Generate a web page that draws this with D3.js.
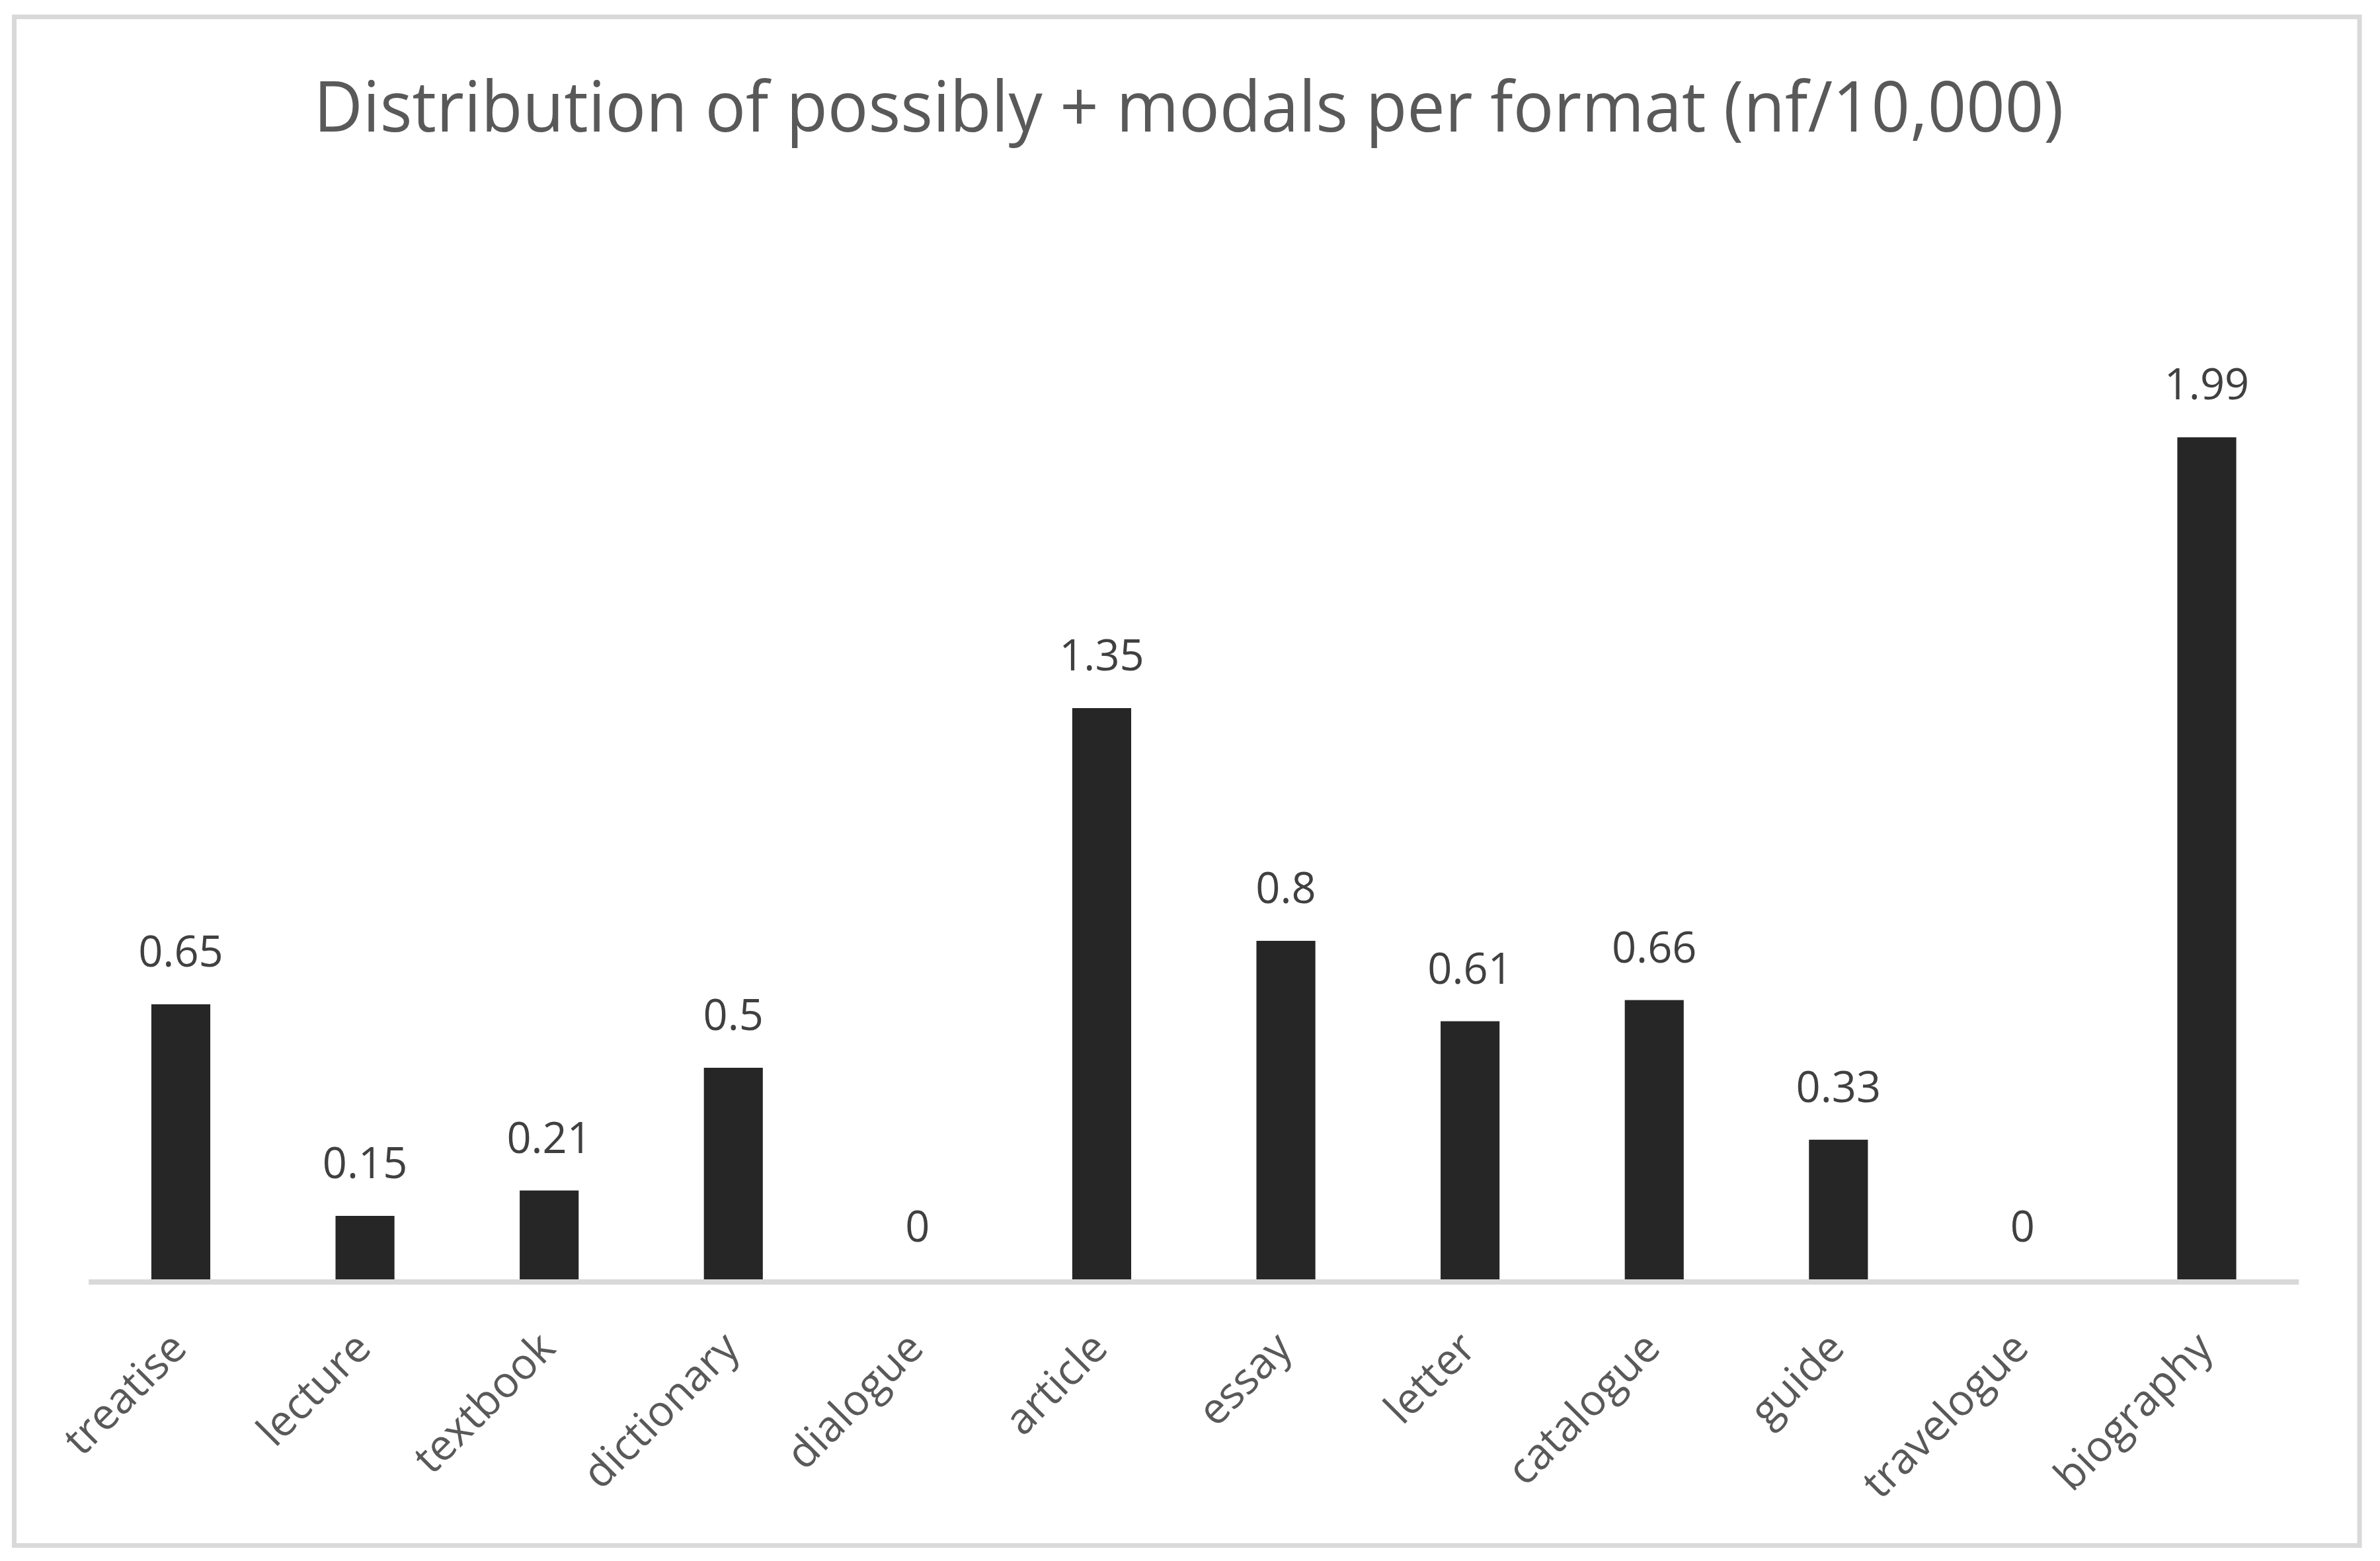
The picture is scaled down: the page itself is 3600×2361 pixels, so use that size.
<!DOCTYPE html>
<html>
<head>
<meta charset="utf-8">
<script src="https://cdn.jsdelivr.net/npm/d3@7"></script>
<style>
  html, body { margin: 0; padding: 0; background: #ffffff; }
  svg { display: block; }
</style>
</head>
<body>
<script>
const titleText = "Distribution of possibly + modals per format (nf/10,000)";
const categories = ["treatise", "lecture", "textbook", "dictionary", "dialogue", "article",
                    "essay", "letter", "catalogue", "guide", "travelogue", "biography"];
const values = [0.65, 0.15, 0.21, 0.5, 0, 1.35, 0.8, 0.61, 0.66, 0.33, 0, 1.99];

const W = 3600, H = 2361;
const svg = d3.select("body").append("svg").attr("width", W).attr("height", H);
svg.append("rect").attr("width", W).attr("height", H).attr("fill", "#ffffff");

// chart border
svg.append("rect")
  .attr("x", 21.5).attr("y", 25.5).attr("width", 3569 - 21.5).attr("height", 2337.5 - 25.5)
  .attr("fill", "none").attr("stroke", "#d9d9d9").attr("stroke-width", 7);

const baseY = 1935;
const x = d3.scaleBand().domain(categories).range([134.2, 3477.3]).paddingInner(0.68).paddingOuter(0.34);
const y = d3.scaleLinear().domain([0, 2.5]).range([baseY, baseY - 2.5 * 640]);

const data = categories.map((c, i) => ({ c, v: values[i] }));

// bars
svg.append("g").selectAll("rect").data(data).join("rect")
  .attr("x", d => x(d.c))
  .attr("y", d => y(d.v))
  .attr("width", x.bandwidth())
  .attr("height", d => y(0) - y(d.v))
  .attr("fill", "#262626");

// axis line
const axisG = svg.append("g").attr("transform", `translate(0,${baseY + 4})`)
  .call(d3.axisBottom(x).tickSize(0).tickFormat(""));
axisG.select(".domain").attr("stroke", "#d9d9d9").attr("stroke-width", 8)
  .attr("d", `M${x.range()[0]},0H${x.range()[1]}`);

// value labels
svg.append("g").selectAll("text").data(data).join("text")
  .attr("x", d => x(d.c) + x.bandwidth() / 2)
  .attr("y", d => y(d.v) - 57)
  .attr("text-anchor", "middle")
  .attr("font-family", "'Open Sans', 'Noto Sans', sans-serif")
  .attr("font-size", 65)
  .attr("fill", "#404040")
  .text(d => String(d.v));

// category labels
svg.append("g").selectAll("text").data(categories).join("text")
  .attr("transform", d => `translate(${x(d) + x.bandwidth() / 2},2030) rotate(-45)`)
  .attr("text-anchor", "end")
  .attr("dy", "0.27em")
  .attr("font-family", "'Open Sans', 'Noto Sans', sans-serif")
  .attr("font-size", 65)
  .attr("fill", "#595959")
  .text(d => d);

// title
const t = svg.append("text")
  .attr("x", 1798).attr("y", 199)
  .attr("text-anchor", "middle")
  .attr("font-family", "'Open Sans', 'Noto Sans', sans-serif")
  .attr("font-size", 106)
  .attr("fill", "#595959")
  .attr("textLength", 2647)
  .attr("lengthAdjust", "spacingAndGlyphs")
  .text(titleText);
</script>
</body>
</html>
